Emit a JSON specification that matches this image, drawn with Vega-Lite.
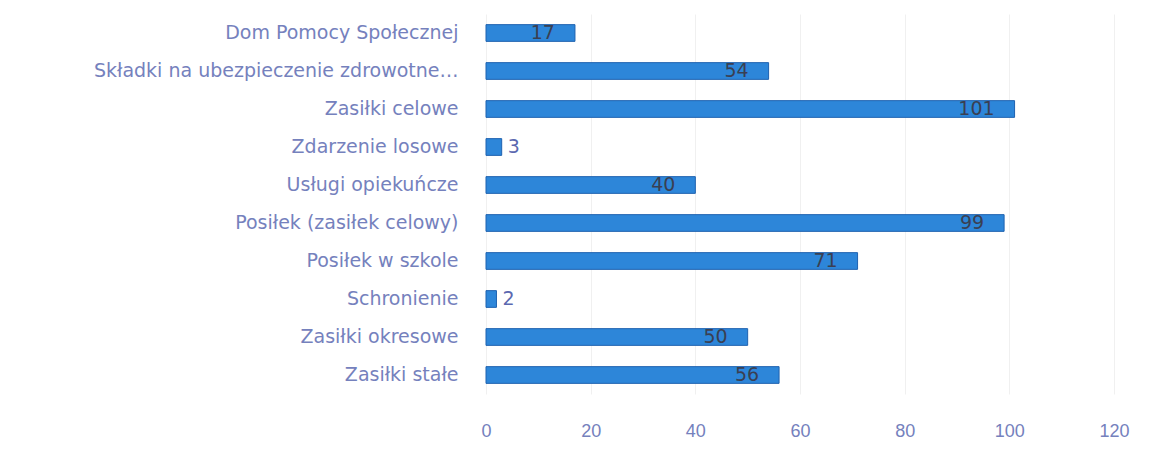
{
  "$schema": "https://vega.github.io/schema/vega-lite/v6.json",
  "autosize": "none",
  "width": 628,
  "height": 380,
  "padding": {"left": 486, "top": 14, "right": 45, "bottom": 58},
  "background": "white",
  "config": {"view": {"stroke": null}, "font": "Liberation Sans"},
  "data": {"values": [
    {"kategoria": "Dom Pomocy Społecznej", "wartosc": 17},
    {"kategoria": "Składki na ubezpieczenie zdrowotne…", "wartosc": 54},
    {"kategoria": "Zasiłki celowe", "wartosc": 101},
    {"kategoria": "Zdarzenie losowe", "wartosc": 3},
    {"kategoria": "Usługi opiekuńcze", "wartosc": 40},
    {"kategoria": "Posiłek (zasiłek celowy)", "wartosc": 99},
    {"kategoria": "Posiłek w szkole", "wartosc": 71},
    {"kategoria": "Schronienie", "wartosc": 2},
    {"kategoria": "Zasiłki okresowe", "wartosc": 50},
    {"kategoria": "Zasiłki stałe", "wartosc": 56}
  ]},
  "encoding": {
    "y": {"field": "kategoria", "type": "nominal", "sort": null,
      "scale": {"paddingInner": 0.56, "paddingOuter": 0.28},
      "axis": {"title": null, "domain": false, "ticks": false, "labelPadding": 28,
        "labelFontSize": 19, "labelColor": "#7581bd", "labelLimit": 0, "labelFont": "DejaVu Sans"}},
    "x": {"field": "wartosc", "type": "quantitative",
      "scale": {"domain": [0, 120], "nice": false},
      "axis": {"title": null, "values": [0, 20, 40, 60, 80, 100, 120], "domain": false, "ticks": false,
        "labelPadding": 28, "labelFontSize": 18, "labelColor": "#7581bd", "labelFlush": false,
        "grid": true, "gridColor": "#f0f0f0", "labelFont": "Liberation Sans"}}
  },
  "layer": [
    {"mark": {"type": "bar", "color": "#2d86d9", "stroke": "#1e62b0", "strokeWidth": 1}},
    {"transform": [{"filter": "datum.wartosc >= 10"}],
     "mark": {"type": "text", "align": "right", "dx": -20, "fontSize": 19, "color": "#3a3f52", "font": "DejaVu Sans"},
     "encoding": {"text": {"field": "wartosc", "type": "quantitative"}}},
    {"transform": [{"filter": "datum.wartosc < 10"}],
     "mark": {"type": "text", "align": "left", "dx": 6, "fontSize": 19, "color": "#5b68b0", "font": "DejaVu Sans"},
     "encoding": {"text": {"field": "wartosc", "type": "quantitative"}}}
  ]
}
